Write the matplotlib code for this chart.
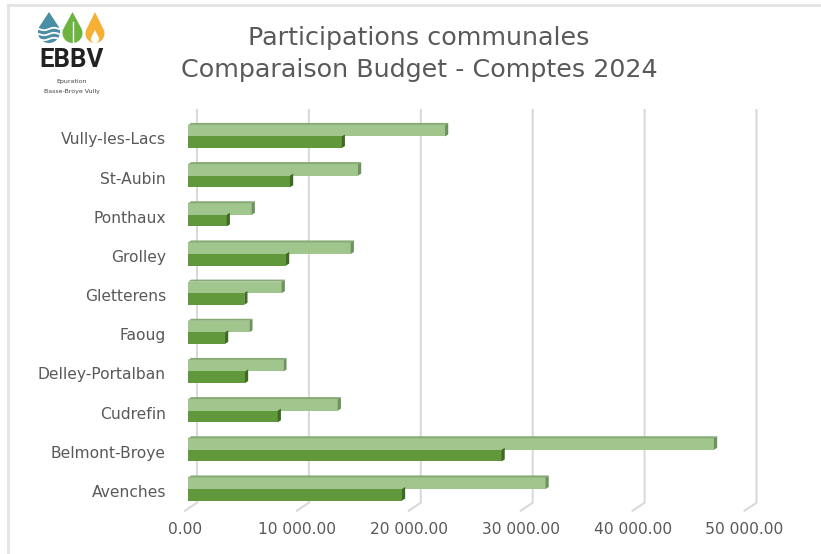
import numpy as np
import matplotlib
matplotlib.use("Agg")
import matplotlib.pyplot as plt
from matplotlib.patches import Polygon

# ---- data ----
communes = ["Avenches", "Belmont-Broye", "Cudrefin", "Delley-Portalban", "Faoug",
            "Gletterens", "Grolley", "Ponthaux", "St-Aubin", "Vully-les-Lacs"]
budget = [31950, 47000, 13380, 8520, 5480, 8370, 14540, 5690, 15190, 22970]
comptes = [19120, 28020, 8020, 5090, 3310, 5030, 8760, 3460, 9115, 13740]
xticks = [0, 10000, 20000, 30000, 40000, 50000]
xtick_labels = ["0.00", "10 000.00", "20 000.00", "30 000.00", "40 000.00", "50 000.00"]
title_lines = ["Participations communales", "Comparaison Budget - Comptes 2024"]

W, H = 821, 554
fig = plt.figure(figsize=(W / 100, H / 100), dpi=100)
fig.patch.set_facecolor("white")

# full-figure overlay axes in pixel coordinates
bg = fig.add_axes([0, 0, 1, 1], zorder=0)
bg.set_xlim(0, W)
bg.set_ylim(H, 0)
bg.axis("off")

# border
bg.plot([8, W], [5, 5], color="#e3e3e3", lw=2)
bg.plot([8, 8], [5, H], color="#e3e3e3", lw=2)

# ---- main axes (pixel-matched) ----
px_left, px_right, px_top, px_bot = 170, 800, 100, 520
s = 0.01119          # px per unit
zero_px = 188
cat_px0 = 489        # Avenches centre
cat_step = 39.17
xl = (px_left - zero_px) / s
xr = (px_right - zero_px) / s
yt = (cat_px0 - px_top) / cat_step
yb = -(px_bot - cat_px0) / cat_step

ax = fig.add_axes([px_left / W, 1 - px_bot / H, (px_right - px_left) / W, (px_bot - px_top) / H], zorder=2)
ax.set_xlim(xl, xr)
ax.set_ylim(yb, yt)
ax.patch.set_alpha(0)
for sp in ax.spines.values():
    sp.set_visible(False)
ax.set_xticks([])
ax.set_yticks([])

# 3D-ish gridlines
back_off = (197 - zero_px) / s
front_off = -(zero_px - 185) / s
y_top_g = (cat_px0 - 110) / cat_step
y_back_b = (cat_px0 - 502.7) / cat_step
y_front_b = (cat_px0 - 510.7) / cat_step
gcol = "#d9d9d9"
for v in xticks:
    ax.plot([v + back_off, v + back_off, v + front_off],
            [y_top_g, y_back_b, y_front_b], color=gcol, lw=1.5, zorder=1,
            solid_joinstyle="miter")

# bars
y = np.arange(len(communes))
hb = 0.295
light, light_side, light_top = "#a1c68d", "#6e9160", "#86a974"
dark, dark_side = "#62983c", "#3e6a25"
dx = 3.2 / s
dy = 2.0 / cat_step

ax.barh(y + hb / 2, budget, height=hb, color=light, zorder=3, lw=0)
ax.barh(y - hb / 2, comptes, height=hb, color=dark, zorder=3, lw=0)
for yi, b, c in zip(y, budget, comptes):
    top, bot = yi + hb, yi
    ax.add_patch(Polygon([(0, top), (b, top), (b + dx, top + dy), (dx, top + dy)],
                         closed=True, color=light_top, lw=0, zorder=3))
    ax.add_patch(Polygon([(b, bot), (b, top), (b + dx, top + dy), (b + dx, bot + dy)],
                         closed=True, color=light_side, lw=0, zorder=3))
    top, bot = yi, yi - hb
    ax.add_patch(Polygon([(c, bot), (c, top), (c + dx, top + dy), (c + dx, bot + dy)],
                         closed=True, color=dark_side, lw=0, zorder=3))

txtcol = "#595959"
font = ["DejaVu Sans"]
for v, lab in zip(xticks, xtick_labels):
    ax.text(v + front_off, (cat_px0 - 530) / cat_step, lab, ha="center", va="center",
            fontsize=11.2, color=txtcol, family=font)
for yi, name in zip(y, communes):
    ax.text(-(zero_px - 166) / s, yi - 3.5 / cat_step, name, ha="right", va="center",
            fontsize=11.2, color=txtcol, family=font)

# title
bg.text(419, 38, title_lines[0], ha="center", va="center", fontsize=18.3, color=txtcol, family=font)
bg.text(419, 70, title_lines[1], ha="center", va="center", fontsize=18.3, color=txtcol, family=font)

# ---- logo ----
def drop(cx, tip_y, bot_y, r):
    cy = bot_y - r
    d = cy - tip_y
    a = np.arccos(r / d)
    phi = np.linspace(a, 2 * np.pi - a, 60)
    xs = cx + r * np.sin(phi)
    ys = cy - r * np.cos(phi)
    return [(cx, tip_y)] + list(zip(xs, ys))

bg.add_patch(Polygon(drop(49, 12, 43, 11), closed=True, color="#4a8ea6", lw=0, zorder=3))
for wy in [29, 34, 39]:
    wx = np.linspace(39, 59, 40)
    bg.plot(wx, wy + 1.2 * np.sin((wx - 39) / 20 * 2 * np.pi), color="white", lw=1.3, zorder=4)
bg.add_patch(Polygon(drop(72.5, 12, 43, 10), closed=True, color="#6cb340", lw=0, zorder=3))
bg.plot([72.5, 72.5], [22, 43], color="white", lw=1.0, zorder=4)
bg.add_patch(Polygon(drop(95, 12, 43, 9.5), closed=True, color="#f6b033", lw=0, zorder=3))
bg.add_patch(Polygon(drop(95, 30, 43, 4), closed=True, color="white", lw=0, zorder=4))
bg.text(71.5, 60, "EBBV", ha="center", va="center", fontsize=18.5, fontweight="bold",
        color="#222222", family=["Roboto", "DejaVu Sans"])
bg.text(72, 81, "Epuration", ha="center", va="center", fontsize=4.5, color="#444444", family=font)
bg.text(72, 91, "Basse-Broye Vully", ha="center", va="center", fontsize=4.5, color="#444444", family=font)

fig.savefig("out.png", dpi=100)
